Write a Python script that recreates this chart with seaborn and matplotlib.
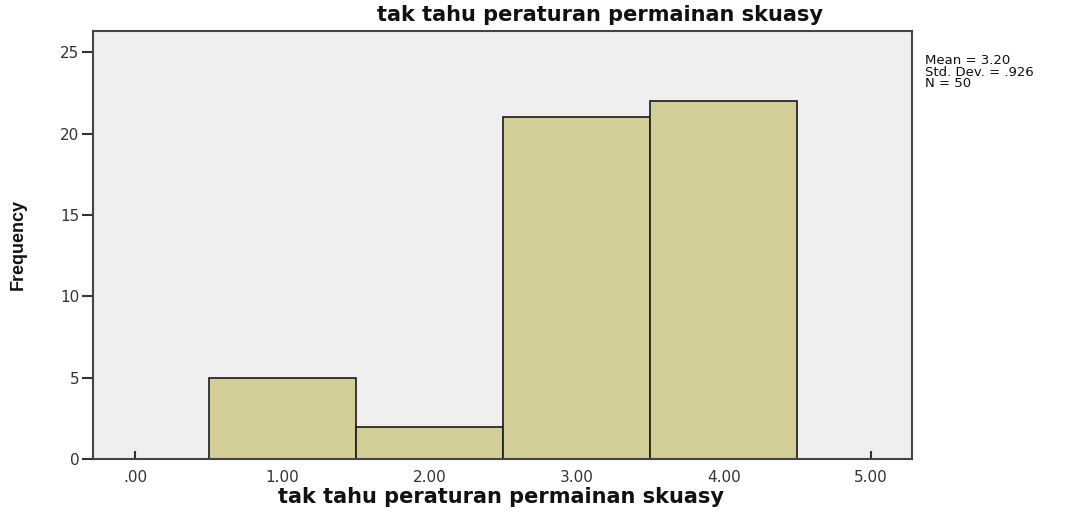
import matplotlib
matplotlib.use("Agg")
import matplotlib.pyplot as plt
import seaborn as sns
import numpy as np

# Data
categories = [1.0, 2.0, 3.0, 4.0]
counts = [5, 2, 21, 22]
x_ticks = [0, 1, 2, 3, 4, 5]
x_tick_labels = [".00", "1.00", "2.00", "3.00", "4.00", "5.00"]
y_ticks = [0, 5, 10, 15, 20, 25]
title = "tak tahu peraturan permainan skuasy"
xlabel = "tak tahu peraturan permainan skuasy"
ylabel = "Frequency"
stats_text = "Mean = 3.20\nStd. Dev. = .926\nN = 50"

sns.set_style("white")
plt.rcParams['font.family'] = ['DejaVu Sans']

fig = plt.figure(figsize=(10.83, 5.12), dpi=100)
ax = fig.add_axes([93.3/1083, 1 - 459.3/512, (912 - 93.3)/1083, (459.3 - 31)/512])
ax.set_facecolor("#EFEFEF")

sns.histplot(x=categories, weights=counts, bins=[0.5, 1.5, 2.5, 3.5, 4.5],
             color="#D3CE97", alpha=1, edgecolor="#1a1a1a", linewidth=1.2, ax=ax)

ax.set_xlim(-0.284, 5.28)
ax.set_ylim(0, 26.3)
ax.set_xticks(x_ticks)
ax.set_xticklabels(x_tick_labels, fontsize=11, color="#333333")
ax.set_yticks(y_ticks)
ax.set_yticklabels([str(v) for v in y_ticks], fontsize=11, color="#333333")
ax.tick_params(axis='y', direction='out', length=8, width=1.5, color="#333333", pad=2, left=True)
ax.tick_params(axis='x', direction='in', length=6, width=1.5, color="#333333", pad=8, bottom=True)
for s in ax.spines.values():
    s.set_visible(True)
    s.set_color("#444444")
    s.set_linewidth(1.5)

ax.set_xlabel("")
ax.set_ylabel("")
fig.text(501/1083, 1 - 497/512, xlabel, ha='center', va='center', fontsize=15,
         fontweight='bold', color='#111111')
fig.text(600/1083, 1 - 15/512, title, ha='center', va='center', fontsize=15,
         fontweight='bold', color='#111111')
fig.text(18/1083, 1 - 245/512, ylabel, ha='center', va='center', rotation=90,
         fontsize=13, fontweight='bold', family='Liberation Sans',
         color='#111111')
fig.text(925/1083, 1 - 54/512, stats_text, ha='left', va='top', fontsize=9.5,
         linespacing=0.85, color='#111111')

fig.savefig("out.png", dpi=100)
